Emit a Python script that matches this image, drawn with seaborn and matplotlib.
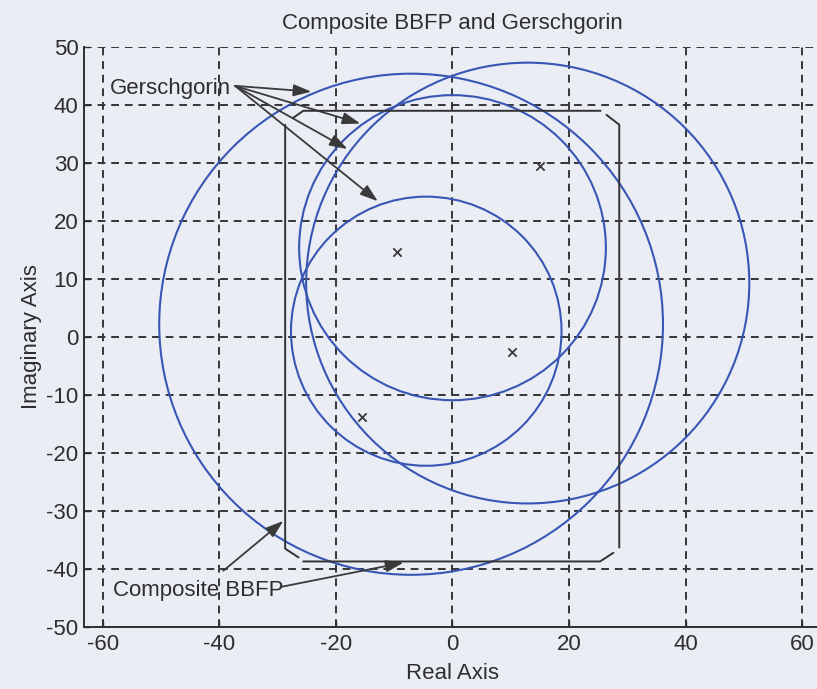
import numpy as np
import pandas as pd
import matplotlib
matplotlib.use("Agg")
import matplotlib.pyplot as plt
import seaborn as sns
from matplotlib.patches import Circle

# ---------------- data ----------------
# Gerschgorin circles (centre real, centre imag, radius)
circle_cx = [-7.1, 12.9, 0.0, -4.5]
circle_cy = [2.2, 9.3, 15.4, 1.0]
circle_r = [43.2, 38.0, 26.3, 23.2]

# eigenvalues (x markers)
eig_re = [-9.5, 15.0, 10.2, -15.5]
eig_im = [14.7, 29.4, -2.6, -13.8]

# Composite BBFP outline, drawn as separate pieces
bbfp_seg_id = [0, 0, 0, 1, 1, 1, 2, 2, 2, 3, 3, 3]
bbfp_x = [-27.3, -25.6, 25.4, 26.4, 28.6, 28.6, 27.6, 25.3, -25.6, -26.4, -28.7, -28.7]
bbfp_y = [37.8, 39.0, 39.0, 38.3, 36.6, -36.3, -37.2, -38.7, -38.7, -38.0, -36.5, 36.6]

# annotations
ger_label = "Gerschgorin"
ger_label_xy = (-58.7, 42.9)
ger_start = (-37.3, 43.3)
ger_tip_x = [-24.2, -15.8, -18.0, -12.8]
ger_tip_y = [42.3, 36.8, 32.4, 23.4]

bbfp_label = "Composite BBFP"
bbfp_label_xy = (-58.3, -43.7)
bbfp_start_x = [-39.3, -29.5]
bbfp_start_y = [-40.3, -43.1]
bbfp_tip_x = [-29.0, -8.4]
bbfp_tip_y = [-31.7, -38.9]

x_ticks = [-60, -40, -20, 0, 20, 40, 60]
y_ticks = [-50, -40, -30, -20, -10, 0, 10, 20, 30, 40, 50]

# ---------------- style ----------------
sns.set_theme(style="ticks")
plt.rcParams["font.family"] = ["Liberation Sans", "DejaVu Sans"]
plt.rcParams["axes.unicode_minus"] = False

bg = "#eaedf4"
ink = "#2e2e2e"
blue = "#3856b4"
fs = 16

fig = plt.figure(figsize=(8.17, 6.89), dpi=100, facecolor=bg)
ax = fig.add_axes([84 / 817, 62 / 689, 737 / 817, 580 / 689])
ax.set_facecolor(bg)

ax.set_xlim(-63.2, 63.2)
ax.set_ylim(-50, 50)

# grid
ax.set_xticks(x_ticks)
ax.set_yticks(y_ticks)
ax.set_xticklabels([str(v) for v in x_ticks])
ax.set_yticklabels([str(v) for v in y_ticks])
ax.grid(True, linestyle=(0, (4, 3)), color="#363636", linewidth=1.4)
ax.set_axisbelow(True)

for s in ["top", "right"]:
    ax.spines[s].set_visible(False)
for s in ["left", "bottom"]:
    ax.spines[s].set_color(ink)
    ax.spines[s].set_linewidth(1.4)
ax.tick_params(direction="in", length=4, width=1.0, colors=ink,
               labelsize=fs, labelcolor=ink)
ax.tick_params(axis="y", pad=4)
ax.tick_params(axis="x", pad=5)

# circles
for cx, cy, r in zip(circle_cx, circle_cy, circle_r):
    ax.add_patch(Circle((cx, cy), r, fill=False, edgecolor=blue, linewidth=1.5, zorder=3))

# eigenvalue markers
eig_df = pd.DataFrame({"re": eig_re, "im": eig_im})
sns.scatterplot(data=eig_df, x="re", y="im", marker="x", color="#3a3a3a",
                s=36, linewidth=1.3, ax=ax, zorder=4)

# BBFP outline
bb_df = pd.DataFrame({"x": bbfp_x, "y": bbfp_y, "seg": bbfp_seg_id})
for seg, d in bb_df.groupby("seg"):
    sns.lineplot(data=d, x="x", y="y", sort=False, estimator=None,
                 color="#333333", linewidth=1.4, ax=ax, zorder=4)

# annotations
ax.text(ger_label_xy[0], ger_label_xy[1], ger_label, fontsize=fs, color=ink,
        ha="left", va="center", zorder=5)
for tx, ty in zip(ger_tip_x, ger_tip_y):
    ax.annotate("", xy=(tx, ty), xytext=ger_start,
                arrowprops=dict(arrowstyle="-|>,head_length=0.9,head_width=0.3",
                                color="#3a3a3a", lw=1.3, shrinkA=0, shrinkB=0))
ax.text(bbfp_label_xy[0], bbfp_label_xy[1], bbfp_label, fontsize=fs, color=ink,
        ha="left", va="center", zorder=5)
for sx, sy, tx, ty in zip(bbfp_start_x, bbfp_start_y, bbfp_tip_x, bbfp_tip_y):
    ax.annotate("", xy=(tx, ty), xytext=(sx, sy),
                arrowprops=dict(arrowstyle="-|>,head_length=0.9,head_width=0.3",
                                color="#3a3a3a", lw=1.3, shrinkA=0, shrinkB=0))

ax.set_title("Composite BBFP and Gerschgorin", fontsize=fs, color=ink, pad=13)
ax.set_xlabel("Real Axis", fontsize=fs, color=ink, labelpad=6)
ax.set_ylabel("Imaginary Axis", fontsize=fs, color=ink, labelpad=3)

fig.savefig("out.png", dpi=100, facecolor=bg)
